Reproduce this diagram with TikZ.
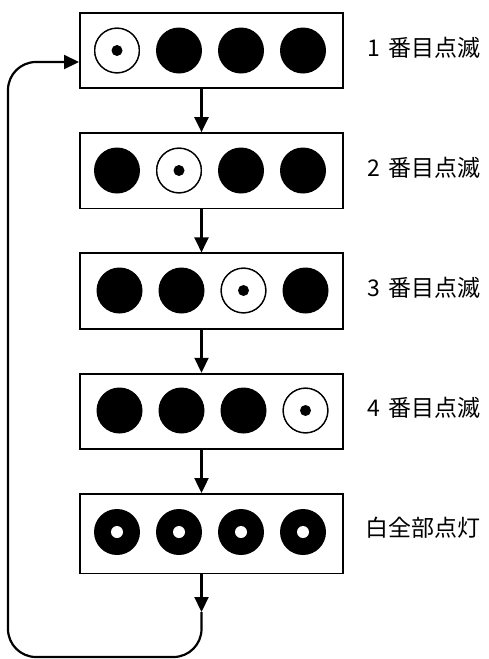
\documentclass[tikz,border=0pt]{standalone}
\usepackage{fontspec}
\newfontfamily\jp{Noto Sans CJK JP}
\usepackage{tikz}
\usetikzlibrary{arrows.meta}
\usetikzlibrary{positioning}

\tikzset{
 panel/.style={draw, line width=1.8pt, minimum width=263.2pt, minimum height=75.5pt, inner sep=0pt},
 conn/.style={line width=2.2pt, -{Triangle[length=15pt,width=14pt]}},
 lbl/.style={font=\jp\fontsize{23}{23}\selectfont, inner sep=0pt}
}

\begin{document}
\begin{tikzpicture}[x=1pt, y=-1pt]
\useasboundingbox (0,0) rectangle (488,659);

\node [panel] (b1) at (211.5,50.5) {};
\node [panel, below=43pt of b1] (b2) {};
\node [panel, below=43pt of b2] (b3) {};
\node [panel, below=43pt of b3] (b4) {};
\node [panel, below=43pt of b4, minimum height=79.5pt] (b5) {};

% lamps, one blinking per row
\foreach \r/\on/\dx in {1/1/0, 2/2/0, 3/3/2.5, 4/4/2.5} {
  \foreach \k in {1,...,4}
    \path[fill=black] ({55+62*\k+\dx},{-69.5+120*\r}) circle (23pt);
  \path[draw, line width=1.3pt, fill=white] ({55+62*\on+\dx},{-69.5+120*\r}) circle (22.3pt);
  \path[fill=black] ({55+62*\on+\dx},{-69.5+120*\r}) circle (5.5pt);
  \node [lbl] (l\r) at (424,{-72.5+120*\r}) {\r\hspace{0.4em}番目点滅};
}
% all lamps on
\foreach \k in {1,...,4} {
  \path[fill=black] ({55+62*\k},532) circle (23pt);
  \path[fill=white] ({55+62*\k},532) circle (6pt);
}
\node [lbl] (l5) at (423,528) {白全部点灯};

\foreach \r [evaluate=\r as \n using int(\r+1)] in {1,...,4}
  \draw [conn] ([xshift=-10pt]b\r.south) -- ([xshift=-10pt]b\n.north);

\coordinate (turn) at (201.5,612);
\draw [conn] ([xshift=-10pt]b5.south) -- (turn);
\draw [conn, rounded corners=28pt] (turn) |- (8,657) |- ([yshift=-11.5pt]b1.west);
\end{tikzpicture}
\end{document}
